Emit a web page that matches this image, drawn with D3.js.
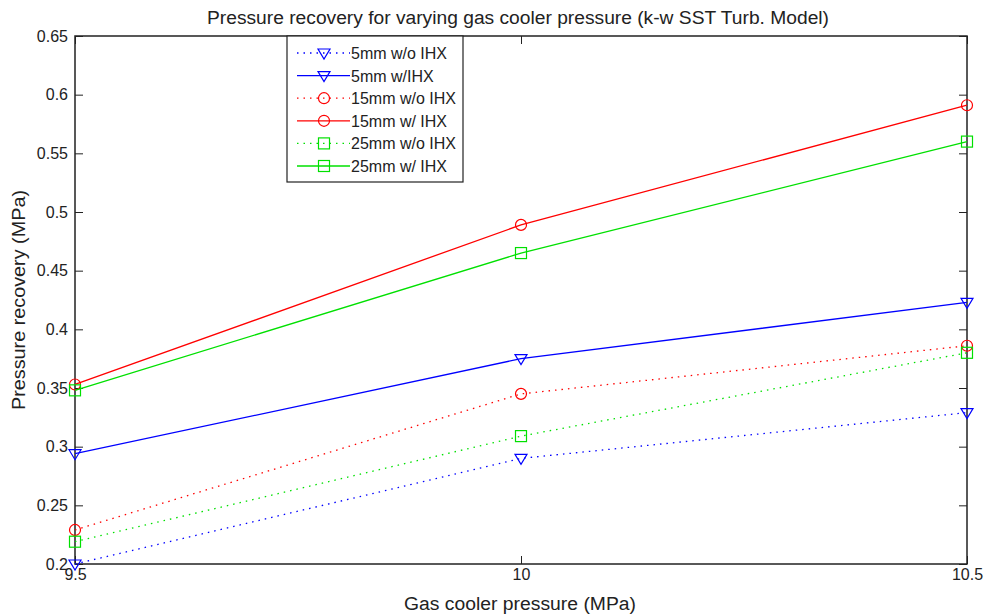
<!DOCTYPE html>
<html>
<head>
<meta charset="utf-8">
<script src="https://cdn.jsdelivr.net/npm/d3@7"></script>
<style>
body{margin:0;background:#fff;}
text{font-family:"Liberation Sans",Arial,sans-serif;fill:#222;}
</style>
</head>
<body>
<svg id="chart" width="986" height="615"></svg>
<script>
const xValues = [9.5, 10, 10.5];
const xTicks = [9.5, 10, 10.5];
const yTicks = [0.2, 0.25, 0.3, 0.35, 0.4, 0.45, 0.5, 0.55, 0.6, 0.65];
const seriesNames = ["5mm w/o IHX", "5mm w/IHX", "15mm w/o IHX", "15mm w/ IHX", "25mm w/o IHX", "25mm w/ IHX"];
const v5woIHX = [0.200, 0.290, 0.329];
const v5wIHX = [0.294, 0.375, 0.423];
const v15woIHX = [0.229, 0.345, 0.386];
const v15wIHX = [0.353, 0.489, 0.591];
const v25woIHX = [0.219, 0.309, 0.380];
const v25wIHX = [0.348, 0.465, 0.560];

const seriesValues = [v5woIHX, v5wIHX, v15woIHX, v15wIHX, v25woIHX, v25wIHX];
const seriesColors = ["#0000ff", "#0000ff", "#ff0000", "#ff0000", "#00e000", "#00e000"];
const seriesDotted = [true, false, true, false, true, false];
const seriesMarker = ["tri", "tri", "circle", "circle", "square", "square"];

const svg = d3.select("#chart");
const L = 75, T = 36, R = 967, B = 564;
const x = d3.scaleLinear().domain([9.5, 10.5]).range([L, R]);
const y = d3.scaleLinear().domain([0.2, 0.65]).range([B, T]);

const g = svg.append("g");
g.append("rect").attr("x", L).attr("y", T).attr("width", R - L).attr("height", B - T)
  .attr("fill", "none").attr("stroke", "#222").attr("stroke-width", 1.5);

const fmt = d => String(+d.toFixed(2));
const yAxisL = d3.axisLeft(y).tickValues(yTicks).tickSize(-8).tickPadding(7).tickFormat(fmt);
g.append("g").attr("transform", `translate(${L},0)`).call(yAxisL)
  .call(s => s.select(".domain").remove())
  .call(s => s.selectAll("line").attr("stroke", "#222"))
  .call(s => s.selectAll("text").style("font-size", "16px").attr("fill", "#222"));
const yAxisR = d3.axisRight(y).tickValues(yTicks).tickSize(-8).tickFormat("");
g.append("g").attr("transform", `translate(${R},0)`).call(yAxisR)
  .call(s => s.select(".domain").remove())
  .call(s => s.selectAll("line").attr("stroke", "#222"));
const xAxisB = d3.axisBottom(x).tickValues(xTicks).tickSize(-8).tickPadding(5).tickFormat(d => String(d));
g.append("g").attr("transform", `translate(0,${B})`).call(xAxisB)
  .call(s => s.select(".domain").remove())
  .call(s => s.selectAll("line").attr("stroke", "#222"))
  .call(s => s.selectAll("text").style("font-size", "16px").attr("fill", "#222"));
const xAxisT = d3.axisTop(x).tickValues(xTicks).tickSize(-8).tickFormat("");
g.append("g").attr("transform", `translate(0,${T})`).call(xAxisT)
  .call(s => s.select(".domain").remove())
  .call(s => s.selectAll("line").attr("stroke", "#222"));

svg.append("text").attr("x", 518).attr("y", 24).attr("text-anchor", "middle")
  .style("font-size", "18px").attr("textLength", 622).attr("lengthAdjust", "spacingAndGlyphs")
  .text("Pressure recovery for varying gas cooler pressure (k-w SST Turb. Model)");
svg.append("text").attr("x", 520).attr("y", 610).attr("text-anchor", "middle")
  .style("font-size", "18px").attr("textLength", 232).attr("lengthAdjust", "spacingAndGlyphs")
  .text("Gas cooler pressure (MPa)");
svg.append("text").attr("transform", `translate(25,${(T + B) / 2}) rotate(-90)`).attr("text-anchor", "middle")
  .style("font-size", "18px").attr("textLength", 220).attr("lengthAdjust", "spacingAndGlyphs")
  .text("Pressure recovery (MPa)");

function drawMarker(sel, type, cx, cy, color) {
  if (type === "tri") {
    sel.append("path").attr("d", `M${cx - 6},${cy - 4}L${cx + 6},${cy - 4}L${cx},${cy + 6}Z`)
      .attr("fill", "none").attr("stroke", color).attr("stroke-width", 1.2);
  } else if (type === "circle") {
    sel.append("circle").attr("cx", cx).attr("cy", cy).attr("r", 5.5)
      .attr("fill", "none").attr("stroke", color).attr("stroke-width", 1.2);
  } else {
    sel.append("rect").attr("x", cx - 5.5).attr("y", cy - 5.5).attr("width", 11).attr("height", 11)
      .attr("fill", "none").attr("stroke", color).attr("stroke-width", 1.2);
  }
}

const line = d3.line().x((d, i) => x(xValues[i])).y(d => y(d));
const plot = svg.append("g");
seriesValues.forEach((vals, k) => {
  plot.append("path").attr("d", line(vals)).attr("fill", "none")
    .attr("stroke", seriesColors[k]).attr("stroke-width", 1.3)
    .attr("stroke-dasharray", seriesDotted[k] ? "1.5,5" : null);
  vals.forEach((v, i) => drawMarker(plot, seriesMarker[k], x(xValues[i]), y(v), seriesColors[k]));
});

const lg = svg.append("g");
const lx = 287, ly = 36, lw = 176, lh = 146;
lg.append("rect").attr("x", lx).attr("y", ly).attr("width", lw).attr("height", lh)
  .attr("fill", "#fff").attr("stroke", "#222").attr("stroke-width", 1.2);
seriesNames.forEach((name, k) => {
  const yy = ly + 17 + k * 22.6;
  lg.append("line").attr("x1", lx + 10).attr("x2", lx + 63).attr("y1", yy).attr("y2", yy)
    .attr("stroke", seriesColors[k]).attr("stroke-width", 1.3)
    .attr("stroke-dasharray", seriesDotted[k] ? "1.5,5" : null);
  drawMarker(lg, seriesMarker[k], lx + 37, yy, seriesColors[k]);
  lg.append("text").attr("x", lx + 64).attr("y", yy + 6).style("font-size", "16px").text(name);
});
</script>
</body>
</html>
